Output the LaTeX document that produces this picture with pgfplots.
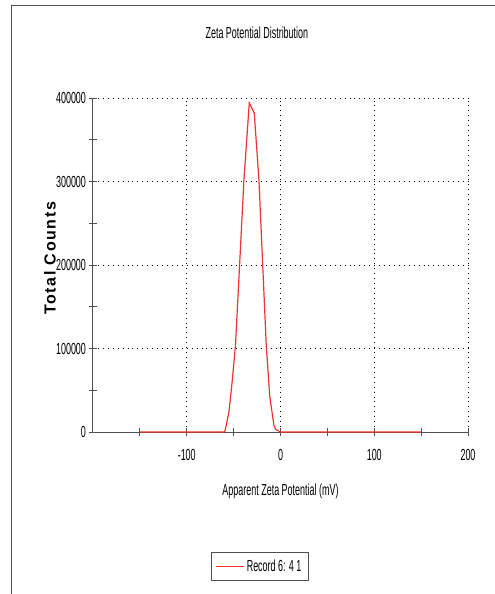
\documentclass[border=0pt]{standalone}
\usepackage{fontspec}
\setmainfont{Liberation Sans}[FakeStretch=0.56]
\newfontfamily\ylabfont{Liberation Sans}[LetterSpace=10]
\usepackage{pgfplots}
\pgfplotsset{compat=1.18}
\definecolor{RecRed}{HTML}{F03232}
\definecolor{AxGray}{HTML}{505050}
\newcommand{\chartfont}{\fontsize{12}{13}\selectfont}

\begin{document}
\begin{tikzpicture}
  \useasboundingbox (0pt,0pt) rectangle (371.25pt,445.5pt);
  % outer frame (page edge of the original report)
  \draw[AxGray, line width=0.75pt] (8.25pt,0pt) -- (8.25pt,441pt) -- (371.25pt,441pt);

  \begin{axis}[
    scale only axis,
    width=281.25pt, height=250.5pt,
    at={(69.75pt,121.5pt)}, anchor=south west,
    xmin=-200, xmax=200, ymin=0, ymax=400000,
    axis lines*=left,
    axis line style={AxGray, line width=0.75pt, -},
    clip=false,
    scaled y ticks=false,
    xtick={-100,0,100,200},
    xticklabels={-100,0,100,200},
    minor xtick={-150,-50,50,150},
    ytick={0,100000,200000,300000,400000},
    yticklabels={0,100000,200000,300000,400000},
    minor ytick={50000,150000,250000,350000},
    tick align=center,
    major tick length=5.5pt, minor tick length=5.5pt,
    tick style={AxGray, line width=0.6pt},
    grid=major,
    major grid style={black, line width=0.7pt, dash pattern=on 0.7pt off 3pt},
    tick label style={font=\chartfont},
    yticklabel style={xshift=1pt},
    xticklabel shift=7pt,
    title={Zeta Potential Distribution},
    title style={font=\chartfont, at={(axis description cs:0.437,1.172)}, anchor=center},
    xlabel={Apparent Zeta Potential (mV)},
    xlabel style={font=\chartfont, at={(axis description cs:0.5,-0.177)}, anchor=center},
    ylabel={Total Counts},
    ylabel style={font=\ylabfont\bfseries\fontsize{12}{13}\selectfont,
      at={(axis description cs:-0.115,0.52)}, anchor=center},
    legend style={at={(axis description cs:0.444,-0.403)}, anchor=center,
      draw=AxGray, line width=0.6pt, font=\chartfont, inner xsep=3pt, inner ysep=3.5pt},
    legend cell align=left,
    legend image code/.code={\draw[#1, line width=0.9pt] (0pt,0pt) -- (21pt,0pt);},
  ]
    \addplot[RecRed, line width=0.9pt] coordinates {
      (-150,0) (-60,0) (-59,2000) (-55,24000) (-52,55000) (-48,104000)
      (-39,302000) (-33.3,394000) (-28,382000) (-23,302000) (-15.2,104000)
      (-11.4,42000) (-7,8000) (-5,3000) (0,0) (150,0)
    };
    \addlegendentry{Record 6: 4 1}
  \end{axis}
\end{tikzpicture}
\end{document}
